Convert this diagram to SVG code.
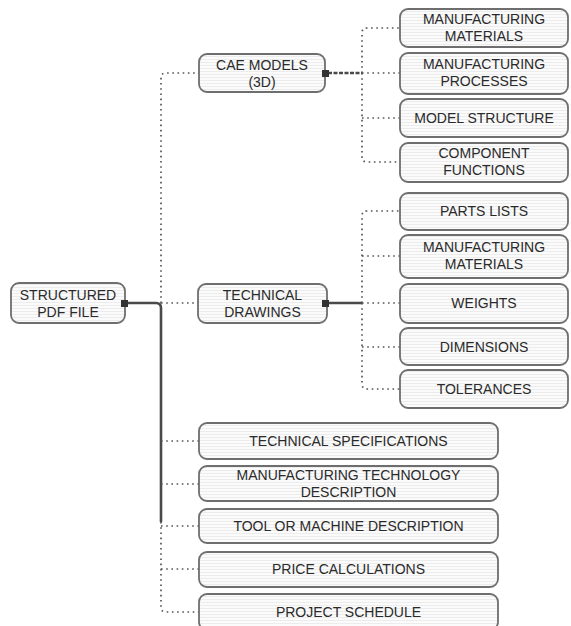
<svg xmlns="http://www.w3.org/2000/svg" width="571" height="626" viewBox="0 0 571 626">
<defs>
<pattern id="scan" width="4" height="3" patternUnits="userSpaceOnUse">
<rect width="4" height="3" fill="#fbfbfb"/>
<rect y="2" width="4" height="1" fill="#ececec"/>
</pattern>
<style>
.box{fill:url(#scan);stroke:#6e6e6e;stroke-width:1.8}
.t{font-family:"Liberation Sans",Arial,sans-serif;font-size:14px;fill:#2a2a2a;text-anchor:middle}
.dot{fill:none;stroke:#555;stroke-width:1.7;stroke-dasharray:1.6 3.6}
.thick{fill:none;stroke:#4a4a4a;stroke-width:2.6}
.dash{fill:none;stroke:#4a4a4a;stroke-width:2.4;stroke-dasharray:4 1.5}
.mk{fill:#333}
</style>
</defs>
<rect width="571" height="626" fill="#ffffff"/>

<g id="connectors">
  <path class="thick" d="M125,303 H156 Q161,303 161,308 V522"/>
  <path class="dot" d="M161,522 V607 Q161,612 166,612 H199"/>
  <path class="dot" d="M161,303 V78 Q161,73 166,73 H199"/>
  <path class="dot" d="M161,303 H198"/>
  <path class="dot" d="M161,441 H199"/>
  <path class="dot" d="M161,484 H199"/>
  <path class="dot" d="M161,526 H199"/>
  <path class="dot" d="M161,569 H199"/>
  <path class="dash" d="M328,73 H362"/>
  <path class="dot" d="M362,73 V33 Q362,28 367,28 H400"/>
  <path class="dot" d="M362,73 V157 Q362,162 367,162 H400"/>
  <path class="dot" d="M362,73 H400"/>
  <path class="dot" d="M362,118 H400"/>
  <path class="thick" d="M328,303 H362"/>
  <path class="dot" d="M362,303 V216 Q362,211 367,211 H400"/>
  <path class="dot" d="M362,303 V384 Q362,389 367,389 H400"/>
  <path class="dot" d="M362,303 H400"/>
  <path class="dot" d="M362,256 H400"/>
  <path class="dot" d="M362,347 H400"/>
</g>

<g id="root">
  <rect class="box" x="11" y="283" width="114" height="40" rx="8"/>
  <text class="t" x="68" y="300">STRUCTURED</text>
  <text class="t" x="68" y="317">PDF FILE</text>
  <rect class="mk" x="121" y="300" width="7" height="7"/>
</g>

<g id="cae">
  <rect class="box" x="199" y="54" width="126" height="38" rx="8"/>
  <text class="t" x="262" y="70">CAE MODELS</text>
  <text class="t" x="262" y="87">(3D)</text>
  <rect class="mk" x="322" y="70" width="7" height="7"/>
</g>

<g id="td">
  <rect class="box" x="198" y="284" width="129" height="39" rx="8"/>
  <text class="t" x="262.5" y="300">TECHNICAL</text>
  <text class="t" x="262.5" y="317">DRAWINGS</text>
  <rect class="mk" x="322" y="300" width="7" height="7"/>
</g>

<g id="cae-mm">
  <rect class="box" x="400" y="9" width="168" height="38" rx="8"/>
  <text class="t" x="484" y="24">MANUFACTURING</text>
  <text class="t" x="484" y="41">MATERIALS</text>
</g>
<g id="cae-mp">
  <rect class="box" x="400" y="53" width="168" height="41" rx="8"/>
  <text class="t" x="484" y="69">MANUFACTURING</text>
  <text class="t" x="484" y="86">PROCESSES</text>
</g>
<g id="cae-ms">
  <rect class="box" x="400" y="99" width="168" height="38" rx="8"/>
  <text class="t" x="484" y="123">MODEL STRUCTURE</text>
</g>
<g id="cae-cf">
  <rect class="box" x="400" y="143" width="168" height="39" rx="8"/>
  <text class="t" x="484" y="158">COMPONENT</text>
  <text class="t" x="484" y="175">FUNCTIONS</text>
</g>

<g id="td-pl">
  <rect class="box" x="400" y="193" width="168" height="37" rx="8"/>
  <text class="t" x="484" y="216">PARTS LISTS</text>
</g>
<g id="td-mm">
  <rect class="box" x="400" y="235" width="168" height="43" rx="8"/>
  <text class="t" x="484" y="252">MANUFACTURING</text>
  <text class="t" x="484" y="269">MATERIALS</text>
</g>
<g id="td-w">
  <rect class="box" x="400" y="284" width="168" height="39" rx="8"/>
  <text class="t" x="484" y="308">WEIGHTS</text>
</g>
<g id="td-d">
  <rect class="box" x="400" y="328" width="168" height="37" rx="8"/>
  <text class="t" x="484" y="352">DIMENSIONS</text>
</g>
<g id="td-t">
  <rect class="box" x="400" y="370" width="168" height="38" rx="8"/>
  <text class="t" x="484" y="394">TOLERANCES</text>
</g>

<g id="ts">
  <rect class="box" x="199" y="423" width="299" height="36" rx="8"/>
  <text class="t" x="348.5" y="446">TECHNICAL SPECIFICATIONS</text>
</g>
<g id="mtd">
  <rect class="box" x="199" y="466" width="299" height="35" rx="8"/>
  <text class="t" x="348.5" y="480">MANUFACTURING TECHNOLOGY</text>
  <text class="t" x="348.5" y="497">DESCRIPTION</text>
</g>
<g id="tmd">
  <rect class="box" x="199" y="509" width="299" height="34" rx="8"/>
  <text class="t" x="348.5" y="531">TOOL OR MACHINE DESCRIPTION</text>
</g>
<g id="pc">
  <rect class="box" x="199" y="552" width="299" height="35" rx="8"/>
  <text class="t" x="348.5" y="574">PRICE CALCULATIONS</text>
</g>
<g id="ps">
  <rect class="box" x="199" y="594" width="299" height="36" rx="8"/>
  <text class="t" x="348.5" y="617">PROJECT SCHEDULE</text>
</g>
</svg>
